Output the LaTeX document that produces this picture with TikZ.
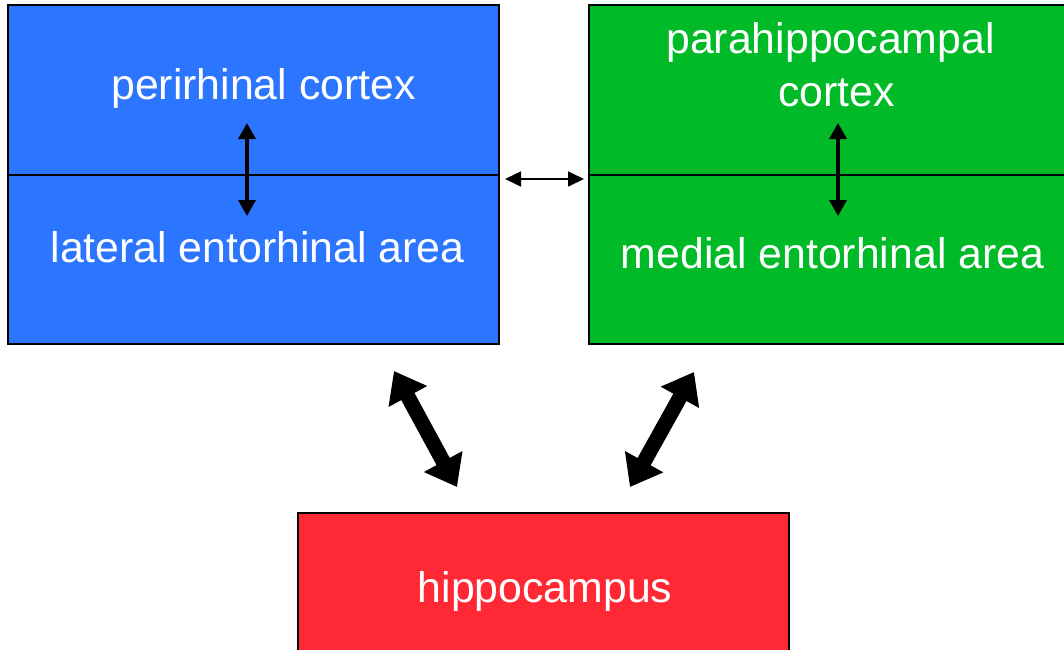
\documentclass[tikz,border=0pt]{standalone}
\usepackage{fontspec}
\setmainfont{Liberation Sans}
\usetikzlibrary{arrows.meta}
\definecolor{boxblue}{RGB}{44,117,255}
\definecolor{boxgreen}{RGB}{0,187,39}
\definecolor{boxred}{RGB}{255,41,54}
\begin{document}
\begin{tikzpicture}[x=1pt,y=-1pt,
  region/.style={draw=black,line width=1.5pt,inner sep=0pt,outer sep=0pt,anchor=north west},
  lbl/.style={text=white,inner sep=0pt,anchor=base,font=\fontsize{42.8}{52}\selectfont},
  thinarrow/.style={line width=3.5pt,{Triangle[length=16pt,width=17pt]}-{Triangle[length=16pt,width=17pt]}},
  midarrow/.style={line width=1.6pt,{Triangle[length=16pt,width=15pt]}-{Triangle[length=16pt,width=15pt]}},
  bigarrow/.style={line width=15pt,{Triangle[length=29pt,width=42pt]}-{Triangle[length=29pt,width=42pt]}}]
\useasboundingbox (0,0) rectangle (1064,649);
\clip (0,0) rectangle (1064,649);
% blue box
\node[region,fill=boxblue,minimum width=491pt,minimum height=170pt] (pr) at (8,5) {};
\node[region,fill=boxblue,minimum width=491pt,minimum height=169pt] (lea) at (8,175) {};
% green box
\node[region,fill=boxgreen,minimum width=520pt,minimum height=170pt] (phc) at (589,5) {};
\node[region,fill=boxgreen,minimum width=520pt,minimum height=169pt] (mea) at (589,175) {};
% red box
\node[region,fill=boxred,minimum width=491pt,minimum height=170pt] (hip) at (298,513) {};
% labels
\node[lbl] (prt) at (263.5,99) {perirhinal cortex};
\node[lbl] (leat) at (257.5,262) {lateral entorhinal area};
\node[lbl] (phct1) at (830.5,53) {parahippocampal};
\node[lbl] (phct2) at (836.5,106) {cortex};
\node[lbl] (meat) at (832.5,268) {medial entorhinal area};
\node[lbl] (hipt) at (545,602) {hippocampus};
% connector ends
\coordinate (b1) at (247,123);
\coordinate (b2) at (247,216);
\coordinate (g1) at (838,123);
\coordinate (g2) at (838,216);
\coordinate (m1) at (505,179);
\coordinate (m2) at (584,179);
\coordinate (l1) at (394,371);
\coordinate (l2) at (457,487);
\coordinate (r1) at (694,372);
\coordinate (r2) at (630,487);
% connectors
\draw[thinarrow] (b1) -- (b2);
\draw[thinarrow] (g1) -- (g2);
\draw[midarrow] (m1) -- (m2);
\draw[bigarrow] (l1) -- (l2);
\draw[bigarrow] (r1) -- (r2);
\end{tikzpicture}
\end{document}
